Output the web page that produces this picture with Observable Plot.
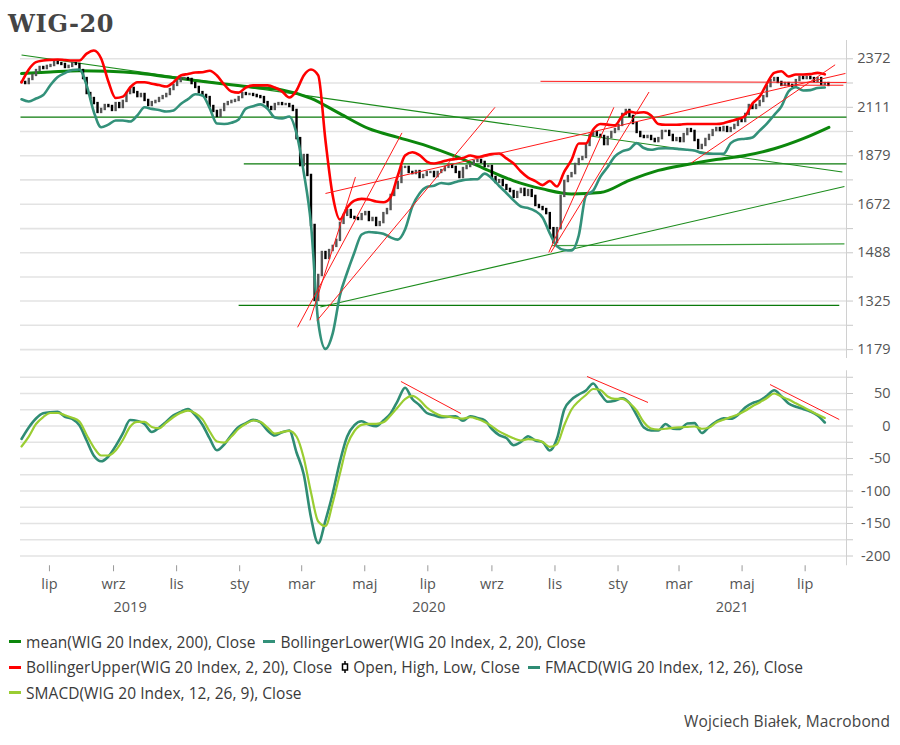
<!DOCTYPE html>
<html><head><meta charset="utf-8">
<script src="https://cdn.jsdelivr.net/npm/d3@7"></script>
<script src="https://cdn.jsdelivr.net/npm/@observablehq/plot@0.6"></script>
<style>
html,body{margin:0;padding:0;background:#fff;}
body{width:900px;height:745px;position:relative;overflow:hidden;font-family:"Open Sans",sans-serif;}
#title{position:absolute;left:8px;top:9px;font:bold 24px "DejaVu Serif",serif;color:#454545;letter-spacing:0.6px}
#upper{position:absolute;left:0;top:30px;}
#lower{position:absolute;left:0;top:365px;}
#legend{position:absolute;left:9px;top:629px;font-size:15.5px;letter-spacing:0.05px;color:#3a3a3a;}
.row{height:25.5px;display:flex;align-items:center;white-space:nowrap}
.item{display:inline-flex;align-items:center;margin-right:8px}
.sw{display:inline-block;width:12px;height:3px;margin-right:5px}
#credit{position:absolute;right:10px;top:710px;font-size:15.5px;letter-spacing:0.1px;color:#444}
</style></head><body>
<div id="title">WIG-20</div>
<div id="upper"></div>
<div id="lower"></div>
<div id="legend"></div>
<div id="credit">Wojciech Białek, Macrobond</div>
<script>
// ---------- DATA ----------
// WIG 20 close, sampled every 3.5 days from 2019-06-04
const closes = [2241,2235,2257,2279,2306,2323,2317,2329,2334,2351,
 2345,2340,2323,2329,2345,2340,2306,2262,2182,2156,
 2130,2085,2100,2120,2115,2095,2130,2110,2141,2182,
 2209,2187,2166,2177,2146,2120,2135,2141,2156,2166,
 2177,2203,2225,2246,2262,2262,2257,2235,2214,2187,
 2172,2161,2115,2090,2065,2095,2125,2135,2141,2146,
 2161,2182,2177,2177,2172,2166,2161,2135,2110,2100,
 2125,2130,2125,2125,2115,2095,1958,1835,1880,1792,
 1589,1327,1409,1489,1468,1496,1511,1533,1597,1628,
 1647,1620,1616,1612,1631,1639,1608,1616,1589,1600,
 1635,1651,1708,1737,1762,1827,1827,1805,1800,1809,
 1783,1792,1805,1805,1787,1805,1813,1827,1835,1827,
 1805,1783,1822,1831,1840,1853,1858,1849,1831,1831,
 1783,1762,1770,1749,1733,1724,1700,1720,1733,1708,
 1728,1704,1667,1659,1651,1635,1577,1525,1577,1704,
 1766,1787,1800,1840,1862,1871,1926,1973,1987,1973,
 1968,1930,1963,1987,2001,2021,2075,2095,2065,2030,
 1987,1968,1963,1968,1954,1944,1958,1992,1992,1973,
 1949,1958,1944,1977,2001,1992,1949,1912,1926,1954,
 1973,1996,2006,1996,2011,1992,2006,2021,2045,2040,
 2075,2120,2105,2120,2141,2166,2219,2251,2262,2241,
 2225,2235,2225,2219,2251,2268,2262,2268,2262,2246,
 2262,2230,2235,2225];

// weekly series from 2019-06-04
const bbUpper = [2241,2312,2353,2362,2366,2368,2365,2362,2362,2402,
 2420,2374,2246,2159,2166,2214,2242,2242,2234,2227,
 2219,2242,2279,2287,2295,2297,2305,2279,2230,2193,
 2187,2214,2225,2225,2225,2214,2193,2161,2198,2279,
 2312,2279,1949,1708,1612,1659,1687,1694,1691,1683,
 1680,1701,1792,1880,1895,1882,1853,1844,1851,1860,
 1864,1869,1880,1873,1880,1887,1889,1867,1844,1809,
 1783,1768,1751,1768,1745,1809,1860,1935,1935,2001,
 2028,2025,2021,2067,2089,2083,2086,2070,2028,2024,
 2024,2025,2028,2028,2028,2028,2028,2032,2042,2052,
 2068,2130,2166,2235,2293,2302,2273,2284,2284,2286,
 2293,2285];
const bbLower = [2152,2141,2156,2174,2227,2270,2292,2309,2312,2225,
 2087,2012,2025,2045,2045,2040,2070,2111,2103,2097,
 2090,2095,2128,2153,2178,2172,2107,2030,2028,2034,
 2050,2104,2116,2126,2104,2060,2055,2065,1982,1805,
 1593,1260,1181,1226,1343,1419,1489,1555,1564,1562,
 1558,1544,1536,1574,1663,1716,1743,1748,1760,1756,
 1764,1772,1775,1776,1800,1779,1747,1718,1688,1663,
 1657,1645,1620,1559,1511,1498,1496,1551,1708,1728,
 1787,1829,1876,1899,1909,1937,1914,1906,1912,1913,
 1912,1909,1906,1903,1891,1888,1888,1888,1937,1954,
 1957,1963,1996,2030,2072,2115,2193,2215,2198,2200,
 2211,2214];
const fmacd = [-20,-2.3,11.5,19.5,21.2,21.7,14.2,10.8,1.1,-22.3,
 -45.8,-54.3,-46.9,-30.9,-11.5,9.2,7.7,3.2,-9.2,-2.8,
 6.6,16.6,21.8,26.2,16.6,2,-19.2,-37.4,-28.5,-13.8,
 -1.5,4.2,9.5,5.7,-6.9,-14.6,-9.7,-6.9,-40.8,-74.6,
 -140.8,-180.3,-145.4,-103.8,-54.6,-16.2,1.2,7.2,2.3,-0.3,
 8.5,19.2,39.2,58.9,41.5,32,20,16.5,13.4,14.3,
 14.9,8.2,15.1,12.3,8.8,-4.6,-14,-18.5,-29.5,-24.6,
 -15.8,-22.3,-24.9,-37.7,-19.2,25.4,40.5,48.5,54.6,65.4,
 49.5,37.2,38.9,42.8,35.4,16.8,-2.3,-6.9,-6.9,3.1,
 -4.2,-4.5,3.8,4.5,-10.8,-1.4,6.6,12,11.2,17.1,
 28.5,35.1,38.9,46.6,54.9,45.8,34.6,29.5,26.2,22.3,
 16.2,5.4];
const smacd = [-31.5,-16.2,3.1,13.8,20,20,16.5,12.8,6.9,-13.8,
 -33.1,-45.4,-45.4,-37.7,-21.5,-1.2,6.2,6.2,-1.5,-3.4,
 5.1,13.8,20.3,23.7,19.7,10.5,-8.5,-23.8,-25.5,-16.2,
 -4.3,3.4,8.5,6.5,-2.3,-11.7,-9.5,-7.5,-16.2,-49.2,
 -102.3,-147,-154,-118.5,-73.1,-29.2,-7.7,1.8,3.4,3.4,
 5.8,16.2,28.9,41.5,46.2,40,28.5,20.8,15.8,14.3,
 12.5,11.5,13.5,10.8,6.2,-0.5,-8.2,-13.8,-18.9,-22.3,
 -20.3,-21.1,-24.6,-32,-27.7,1.2,25.4,38.2,47.7,56.9,
 55.4,45.4,41.8,41.8,35.4,23.8,5.7,-3.8,-5.4,-4.2,
 -2.8,-2,-1.4,-0.8,-4.2,-2.3,5.4,9.7,13.7,17.7,
 23.4,30.5,36.2,43.1,50,45.4,40.6,34.9,29.1,23.5,
 17.7,12.3];
// 200-day mean, every 4 weeks from 2019-06-04, last value on 2021-07-24
const ma200 = [2289,2298,2305,2302,2292,2272,2252,2233,2215,2201,2157,2079,2005,1964,
 1924,1876,1821,1769,1735,1714,1720,1771,1814,1840,1862,1880,1911,1958,2012];
const ma200LastDate = "2021-07-24";

// trend lines: [date1, value1, date2, value2]
const greenLevels = [
 ["2019-06-03",2062,"2021-08-10",2062],
 ["2020-01-05",1843,"2021-08-10",1843],
 ["2019-12-31",1311,"2021-08-03",1311]];
const greenSupport = [["2020-10-29",1514,"2021-08-08",1520]];
const greenTrends = [
 ["2019-06-04",2394,"2021-08-06",1807],
 ["2020-03-19",1306,"2021-08-08",1745]];
const redTrends = [
 ["2020-10-18",2247,"2021-08-10",2241],
 ["2021-06-07",2226,"2021-08-07",2226],
 ["2020-03-24",1716,"2021-08-09",2290],
 ["2021-03-13",1847,"2021-07-30",2338],
 ["2020-02-26",1244,"2020-06-06",1985],
 ["2020-03-09",1265,"2020-04-22",1785],
 ["2020-03-16",1265,"2020-09-04",2111],
 ["2020-10-26",1489,"2020-12-28",2111],
 ["2020-10-28",1489,"2021-01-31",2190]];
const macdTrends = [
 ["2020-06-05",68.5,"2020-08-02",19.2],
 ["2020-12-02",76.2,"2021-01-30",36.2],
 ["2021-05-28",63.8,"2021-08-03",10]];

// axes
const upperLabels = [2372,2111,1879,1672,1488,1325,1179];
const upperMinor = [2238,1992,1773,1577,1404,1250];
const lowerTicks = [75,50,25,0,-25,-50,-75,-100,-125,-150,-175,-200];
const lowerLabels = [50,0,-50,-100,-150,-200];
const monthTickDates = ["2019-07-01","2019-09-01","2019-11-01","2020-01-01","2020-03-01","2020-05-01",
 "2020-07-01","2020-09-01","2020-11-01","2021-01-01","2021-03-01","2021-05-01","2021-07-01"];
const monthTickLabels = ["lip","wrz","lis","sty","mar","maj","lip","wrz","lis","sty","mar","maj","lip"];
const years = [2019,2020,2021];

// ---------- BUILD ----------
const D = s => new Date(s + "T00:00:00Z");
const DAY = 864e5;
const start = D("2019-06-04");
const xDomain = [D("2019-06-03"), D("2021-08-10")];

const candles = closes.map((c,i)=>({date:new Date(start.getTime()+i*3.5*DAY), open: i? closes[i-1] : c, close:c}));
const weekly = bbUpper.map((u,i)=>({date:d3.utcDay.offset(start,7*i), upper:u, lower:bbLower[i], f:fmacd[i], s:smacd[i]}));
const maData = ma200.map((v,i)=>({date: i < ma200.length-1 ? d3.utcDay.offset(start,28*i) : D(ma200LastDate), value:v}));
const link = (rows, opts) => Plot.link(rows, {x1:d=>D(d[0]), y1:d=>d[1], x2:d=>D(d[2]), y2:d=>d[3], ...opts});
const upperGrid = [...upperLabels, ...upperMinor];

const FONT = "'Open Sans', sans-serif";
const upper = Plot.plot({
  width:900, height:335, marginLeft:20, marginRight:54, marginTop:10, marginBottom:7,
  x:{type:"utc", domain:xDomain, axis:null},
  y:{type:"log", domain:[1154.1,2478.7], axis:null},
  style:{fontFamily:FONT, fontSize:"14px", background:"transparent", overflow:"visible"},
  marks:[
    Plot.gridY(upperGrid, {stroke:"#e3e3e3", strokeOpacity:1, strokeWidth:1.6}),
    Plot.ruleX([xDomain[1]], {stroke:"#d0d0d0"}),
    Plot.axisY(upperGrid, {anchor:"right", tickSize:6, tickFormat:()=>"", stroke:"#c8c8c8"}),
    Plot.text(upperLabels, {y:d=>d, frameAnchor:"right", dx:44, textAnchor:"end", text:d=>String(d), fill:"#555", fontSize:14.5}),
    link(greenLevels, {stroke:"#0a7a0a", strokeWidth:1.3}),
    link(greenSupport, {stroke:"#3f9f3f", strokeWidth:1.3}),
    link(greenTrends, {stroke:"#1c8c1c", strokeWidth:1.1}),
    Plot.line(maData, {x:"date", y:"value", stroke:"#0c870c", strokeWidth:3, curve:"monotone-x"}),
    Plot.ruleX(candles, {x:"date", y1:"open", y2:"close", stroke:d=>d.close>=d.open?"#555":"#000", strokeWidth:2.4, strokeLinecap:"square"}),
    Plot.line(weekly, {x:"date", y:"lower", stroke:"#33917a", strokeWidth:2.6, curve:"monotone-x"}),
    Plot.line(weekly, {x:"date", y:"upper", stroke:"#ff0000", strokeWidth:2.6, curve:"monotone-x"}),
    link(redTrends, {stroke:"#ff1a1a", strokeWidth:1})
  ]
});
document.getElementById("upper").appendChild(upper);

const monthMap = new Map(monthTickDates.map((s,i)=>[+D(s), monthTickLabels[i]]));
const yearMids = years.map(y=>{
  const a = Math.max(+D(y+"-01-01"), +xDomain[0]);
  const b = Math.min(+D((y+1)+"-01-01"), +xDomain[1]);
  return new Date((a+b)/2);
});
const lower = Plot.plot({
  width:900, height:260, marginLeft:20, marginRight:54, marginTop:5.25, marginBottom:59.75,
  x:{type:"utc", domain:xDomain, axis:null},
  y:{domain:[-215,85], axis:null},
  style:{fontFamily:FONT, fontSize:"14px", background:"transparent", overflow:"visible"},
  marks:[
    Plot.gridY(lowerTicks, {stroke:"#e3e3e3", strokeOpacity:1, strokeWidth:1.6}),
    Plot.ruleX([xDomain[1]], {stroke:"#d0d0d0"}),
    Plot.axisY(lowerTicks, {anchor:"right", tickSize:6, tickFormat:()=>"", stroke:"#c8c8c8"}),
    Plot.text(lowerLabels, {y:d=>d, frameAnchor:"right", dx:44, textAnchor:"end", text:d=>String(d), fill:"#555", fontSize:14.5}),
    Plot.axisX(monthTickDates.map(D), {anchor:"bottom", tickSize:6, tickPadding:7, stroke:"#999", fill:"#555", fontSize:14.5, tickFormat:d=>monthMap.get(+d)}),
    Plot.axisX(yearMids, {anchor:"bottom", tickSize:0, tickPadding:36, fill:"#555", fontSize:14.5, tickFormat:d=>String(d.getUTCFullYear())}),
    link(macdTrends, {stroke:"#ff1a1a", strokeWidth:1}),
    Plot.line(weekly, {x:"date", y:"f", stroke:"#2f8c74", strokeWidth:2.6, curve:"monotone-x"}),
    Plot.line(weekly, {x:"date", y:"s", stroke:"#9acd32", strokeWidth:2.2, curve:"monotone-x"})
  ]
});
document.getElementById("lower").appendChild(lower);

// legend
const legendRows = [
  [["line","#0c870c","mean(WIG 20 Index, 200), Close"],["line","#33917a","BollingerLower(WIG 20 Index, 2, 20), Close"]],
  [["line","#ff0000","BollingerUpper(WIG 20 Index, 2, 20), Close"],["candle","#000","Open, High, Low, Close"],["line","#2f8c74","FMACD(WIG 20 Index, 12, 26), Close"]],
  [["line","#9acd32","SMACD(WIG 20 Index, 12, 26, 9), Close"]]
];
const leg = document.getElementById("legend");
for (const row of legendRows) {
  const r = document.createElement("div"); r.className = "row";
  for (const [kind,color,label] of row) {
    const it = document.createElement("span"); it.className="item";
    if (kind==="line") {
      const s = document.createElement("span"); s.className="sw"; s.style.background=color; it.appendChild(s);
    } else {
      it.insertAdjacentHTML("beforeend", '<svg width="10" height="14" style="margin-right:3px"><line x1="5" y1="1" x2="5" y2="13" stroke="#000" stroke-width="1.5"/><rect x="2.5" y="4" width="5" height="6" fill="#fff" stroke="#000" stroke-width="1.5"/></svg>');
    }
    it.appendChild(document.createTextNode(label));
    r.appendChild(it);
  }
  leg.appendChild(r);
}
</script>
</body></html>
